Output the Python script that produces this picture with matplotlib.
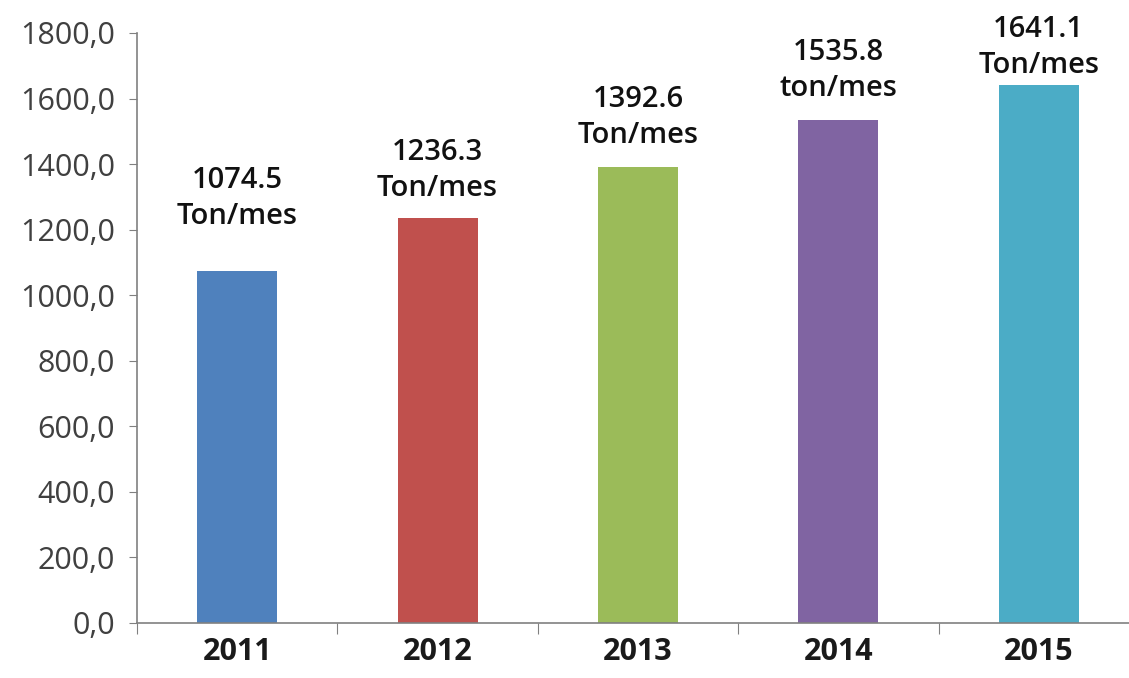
import matplotlib.pyplot as plt
from matplotlib.ticker import FuncFormatter

# datos
years = ["2011", "2012", "2013", "2014", "2015"]
values = [1074.5, 1236.3, 1392.6, 1535.8, 1641.1]
units = ["Ton/mes", "Ton/mes", "Ton/mes", "ton/mes", "Ton/mes"]
colors = ["#4F81BD", "#C0504D", "#9BBB59", "#8064A2", "#4BACC6"]

# separacion de las etiquetas sobre cada barra (puntos)
label_pad = [34, 16, 17, 17, 9]

fig = plt.figure(figsize=(11.29, 6.78), dpi=100)
ax = fig.add_axes([137 / 1129, 55 / 678, 1002 / 1129, 590 / 678])

x = list(range(len(years)))
ax.bar(x, values, width=0.4, color=colors, zorder=2)

ax.set_xlim(-0.5, len(years) - 0.5)
ax.set_ylim(0, 1800)
ax.set_yticks(range(0, 1801, 200))
ax.yaxis.set_major_formatter(FuncFormatter(lambda v, p: f"{v:.1f}".replace(".", ",")))

# etiquetas del eje x centradas, marcas entre categorias
ax.set_xticks([i - 0.5 for i in range(len(years) + 1)])
ax.set_xticklabels([])
ax.set_xticks(x, minor=True)
ax.set_xticklabels(years, minor=True, fontsize=22, fontweight="bold", family="Open Sans",
                   color="#1a1a1a")
ax.tick_params(axis="x", which="major", length=8, direction="out", color="#808080")
ax.tick_params(axis="x", which="minor", length=0, pad=10)
ax.tick_params(axis="y", length=6, direction="out", color="#808080",
               labelsize=22, labelcolor="#404040", pad=10)
for t in ax.get_yticklabels():
    t.set_family("Open Sans")

for s in ["top", "right"]:
    ax.spines[s].set_visible(False)
for s in ["left", "bottom"]:
    ax.spines[s].set_color("#808080")
    ax.spines[s].set_linewidth(1.2)

for i, (v, u) in enumerate(zip(values, units)):
    ax.annotate(f"{v:.1f}\n{u}", (i, v), xytext=(0, label_pad[i]), textcoords="offset points",
                ha="center", va="baseline", fontsize=21, fontweight="semibold",
                family="Open Sans", linespacing=1.3, color="#111111")

fig.savefig("out.png", dpi=100)
